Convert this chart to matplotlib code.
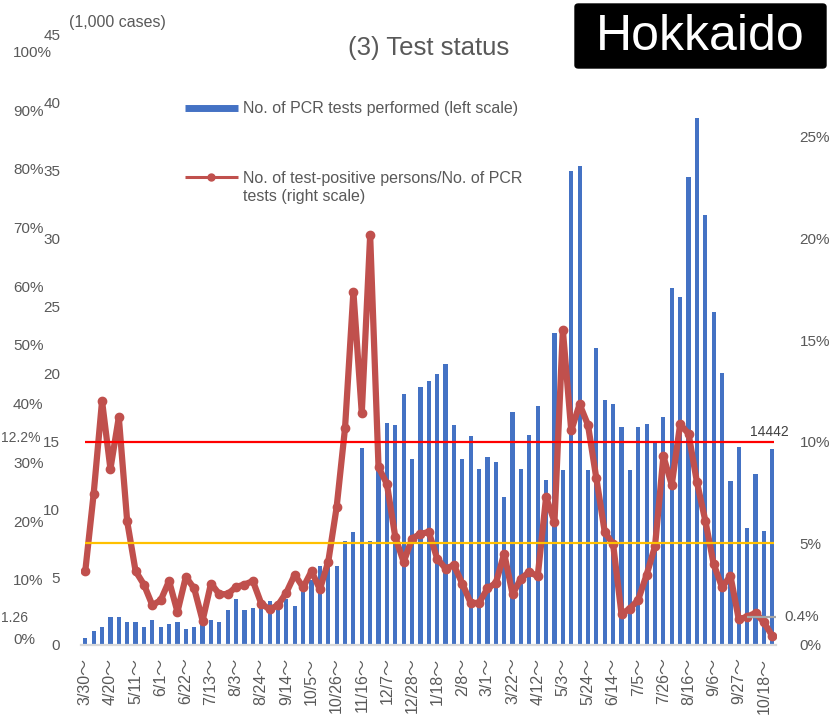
import numpy as np
import matplotlib
matplotlib.use('Agg')
import matplotlib.pyplot as plt
import matplotlib.transforms as mtransforms
from matplotlib.lines import Line2D
from matplotlib.patches import FancyBboxPatch

plt.rcParams['font.family'] = ['Liberation Sans', 'Noto Sans CJK JP']

# ----------------------------------------------------------------------
# data: one value per week, 3/30 (2020) .. 10/25 (2021)
# ----------------------------------------------------------------------
week_labels = ['3/30', '4/20', '5/11', '6/1', '6/22', '7/13', '8/3', '8/24',
               '9/14', '10/5', '10/26', '11/16', '12/7', '12/28', '1/18',
               '2/8', '3/1', '3/22', '4/12', '5/3', '5/24', '6/14', '7/5',
               '7/26', '8/16', '9/6', '9/27', '10/18']

# PCR tests performed, 1,000 cases (left scale)
tests_k = [0.54, 1.0, 1.35, 2.03, 2.03, 1.69, 1.69, 1.35, 1.84, 1.35,
           1.52, 1.69, 1.18, 1.35, 1.5, 1.86, 1.69, 2.55, 3.38, 2.55,
           2.72, 2.9, 3.21, 2.6, 3.38, 2.89, 4.36, 4.8, 5.83, 5.9,
           5.83, 7.67, 8.33, 14.5, 7.67, 13.3, 16.4, 16.2, 18.5, 13.7,
           19.0, 19.5, 20.0, 20.7, 16.2, 13.7, 15.4, 13.0, 13.9, 13.5,
           10.9, 17.2, 13.0, 15.5, 17.6, 12.2, 23.0, 12.9, 35.0, 35.3,
           12.9, 21.9, 18.1, 17.8, 16.1, 12.9, 16.1, 16.3, 15.0, 16.8,
           26.3, 25.7, 34.5, 38.9, 31.7, 24.6, 20.1, 12.1, 14.6, 8.6,
           12.6, 8.4, 14.442]

# test-positive persons / PCR tests, % (right scale)
positive_rate = [3.64, 7.44, 12.0, 8.66, 11.2, 6.08, 3.64, 2.97, 1.96, 2.2,
                 3.15, 1.63, 3.35, 2.78, 1.2, 3.02, 2.5, 2.5, 2.86, 2.97,
                 3.15, 2.04, 1.75, 1.96, 2.58, 3.46, 2.83, 3.63, 2.74, 4.1,
                 6.78, 10.66, 17.37, 11.4, 20.15, 8.74, 7.92, 5.31, 4.08, 5.23,
                 5.47, 5.55, 4.25, 3.76, 3.92, 3.02, 2.07, 2.07, 2.78, 3.05,
                 4.49, 2.5, 3.27, 3.59, 3.38, 7.27, 6.06, 15.5, 10.55, 11.84,
                 10.82, 8.19, 5.56, 4.95, 1.53, 1.79, 2.23, 3.46, 4.86, 9.28,
                 7.88, 10.86, 10.39, 8.02, 6.12, 3.98, 2.84, 3.4, 1.26, 1.39,
                 1.58, 1.12, 0.44]

red_threshold = 10     # % (right scale)
orange_threshold = 5   # %
outer_pct = list(range(0, 101, 10))

TEXT = '#595959'
BLUE = '#4472C4'
RED = '#C0504D'

W, H = 833, 720


def fx(px):
    return px / W


def fy(py):
    return 1 - py / H


fig = plt.figure(figsize=(W / 100, H / 100), dpi=100)

# main axes (bars, left scale)
ax = fig.add_axes([fx(81.1), fy(645), (776.5 - 81.1) / W, (645 - 35) / H])
x = np.arange(len(tests_k))
ax.bar(x, tests_k, width=0.5, color=BLUE, zorder=2)
ax.set_xlim(-0.5, len(tests_k) - 0.5)
ax.set_ylim(0, 45)
ax.set_yticks(range(0, 46, 5))
ax.tick_params(axis='y', length=0, pad=15, labelcolor=TEXT, labelsize=11)
ax.set_xticks(range(0, len(tests_k), 3))
ax.set_xticklabels([f'{d}\uff5e' for d in week_labels], rotation=90,
                   color=TEXT, fontsize=11.5)
ax.tick_params(axis='x', length=0, pad=9)
for s in ['top', 'left', 'right']:
    ax.spines[s].set_visible(False)
ax.spines['bottom'].set_color('#D9D9D9')
ax.spines['bottom'].set_linewidth(1.6)

# right scale: positivity
ax2 = ax.twinx()
ax2.set_ylim(0, 30)
ax2.plot(x, positive_rate, color=RED, lw=4.5, marker='o', ms=6,
         solid_capstyle='round', solid_joinstyle='round', zorder=3)
ax2.hlines(red_threshold, 0, 82.2, color='#FF0000', lw=1.6, zorder=4)
ax2.hlines(orange_threshold, 0, 82.2, color='#FFC000', lw=1.6, zorder=4)
ax2.hlines(1.37, 79.0, 82.5, color='#A6A6A6', lw=1.6, zorder=4)
ax2.set_yticks(range(0, 26, 5))
ax2.set_yticklabels([f'{v}%' for v in range(0, 26, 5)])
ax2.tick_params(axis='y', length=0, pad=16.5, labelcolor=TEXT, labelsize=11)
for s in ax2.spines.values():
    s.set_visible(False)

ax2.text(81.7, 10.15, '14442', ha='center', va='bottom', fontsize=10,
         color='#404040')
ax2.text(83.4, 1.37, '0.4%', ha='left', va='center', fontsize=11,
         color=TEXT, clip_on=False)

# leftover outer percent scale
ax3 = fig.add_axes([fx(13), fy(640), 0.01, (640 - 53) / H])
ax3.set_ylim(0, 100)
ax3.axis('off')
tr = mtransforms.blended_transform_factory(ax3.transAxes, ax3.transData)
for v in outer_pct:
    ax3.text(0, v, f'{v}%', transform=tr, ha='left', va='center',
             fontsize=11, color=TEXT)

fig.text(fx(1), fy(438), '12.2%', ha='left', va='center', fontsize=10,
         color=TEXT)
fig.text(fx(1), fy(618), '1.26', ha='left', va='center', fontsize=10,
         color=TEXT)

fig.text(fx(69), fy(22), '(1,000 cases)', ha='left', va='center',
         fontsize=11.5, color=TEXT)
fig.text(fx(429), fy(48), '(3) Test status', ha='center', va='center',
         fontsize=18.5, color=TEXT)

# legend
leg1 = ax2.legend(handles=[Line2D([], [], color=BLUE, lw=5, solid_capstyle='butt')],
                  labels=['No. of PCR tests performed (left scale)'],
                  loc='center left', bbox_to_anchor=(fx(185), fy(109)),
                  bbox_transform=fig.transFigure, frameon=False,
                  handlelength=3.3, handletextpad=0.35, borderpad=0,
                  borderaxespad=0, fontsize=11.5, labelcolor=TEXT)
ax2.add_artist(leg1)
ax2.legend(handles=[Line2D([], [], color=RED, lw=2.2, marker='o', ms=5,
                           solid_capstyle='butt')],
           labels=['No. of test-positive persons/No. of PCR'],
           loc='center left', bbox_to_anchor=(fx(185), fy(178)),
           bbox_transform=fig.transFigure, frameon=False, numpoints=1,
           handlelength=3.3, handletextpad=0.35, borderpad=0,
           borderaxespad=0, fontsize=11.5, labelcolor=TEXT)
fig.text(fx(243), fy(197), 'tests (right scale)', ha='left', va='center',
         fontsize=11.5, color=TEXT)

# prefecture badge
box = FancyBboxPatch((fx(575), fy(68)), fx(826) - fx(575), fy(4) - fy(68),
                     boxstyle='round,pad=0,rounding_size=0.004',
                     transform=fig.transFigure, facecolor='black',
                     edgecolor='black')
fig.add_artist(box)
fig.text(fx(700), fy(37), 'Hokkaido', ha='center', va='center',
         fontsize=36, color='white')

fig.savefig('out.png', dpi=100)
